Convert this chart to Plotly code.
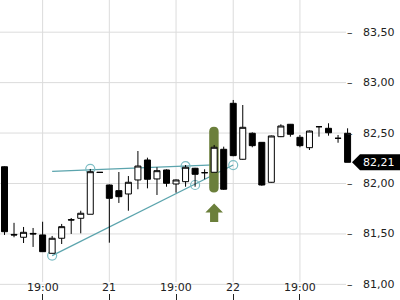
import plotly.graph_objects as go

# ---- data ----
idx = list(range(37))
opens = [82.166, 81.495, 81.467, 81.505, 81.490, 81.308, 81.457, 81.638, 81.655, 81.695,
         82.110, 81.985, 81.929, 81.896, 82.035, 82.233, 82.045, 82.134, 81.995, 82.018,
         82.151, 82.107, 82.111, 82.339, 82.795, 82.240, 82.498, 82.408, 82.012, 82.464,
         82.587, 82.458, 82.355, 82.563, 82.547, 82.448, 82.498]
highs = [82.170, 81.610, 81.569, 81.559, 81.621, 81.480, 81.599, 81.658, 81.730, 82.144,
         82.110, 81.990, 82.114, 82.074, 82.322, 82.256, 82.161, 82.140, 82.040, 82.183,
         82.155, 82.141, 82.382, 82.365, 82.828, 82.778, 82.507, 82.410, 82.475, 82.587,
         82.590, 82.481, 82.525, 82.563, 82.597, 82.481, 82.547]
lows = [81.490, 81.467, 81.410, 81.371, 81.324, 81.305, 81.400, 81.500, 81.506, 81.695,
        82.110, 81.413, 81.807, 81.730, 81.943, 81.952, 81.886, 81.968, 81.909, 81.968,
        81.968, 82.042, 82.111, 81.936, 82.270, 82.235, 82.359, 81.978, 82.008, 82.460,
        82.464, 82.359, 82.332, 82.464, 82.474, 82.404, 82.210]
closes = [81.522, 81.490, 81.516, 81.500, 81.324, 81.457, 81.572, 81.640, 81.705, 82.117,
          82.110, 81.853, 81.869, 82.012, 82.173, 82.042, 82.127, 82.002, 82.035, 82.161,
          82.091, 82.107, 82.359, 81.943, 82.276, 82.557, 82.375, 81.985, 82.471, 82.570,
          82.488, 82.375, 82.520, 82.563, 82.503, 82.448, 82.210]

xtick_idx = [4, 11, 18, 24, 31]
xtick_text = ["19:00", "21", "19:00", "22", "19:00"]
ytick_vals = [81.0, 81.5, 82.0, 82.5, 83.0, 83.5]

# trendline anchors (index, price)
upper_line = [(5, 82.120), (22, 82.185)]
lower_line = [(5, 81.285), (24, 82.183)]
circles = [(5, 81.285), (9, 82.145), (19, 82.172), (20, 81.985), (24, 82.183)]
highlight_idx = 22
arrow_idx = 22

# ---- geometry helpers ----
W_PLOT = 352
PX_PER_IDX = 9.53
X0 = -0.472
X1 = X0 + W_PLOT / PX_PER_IDX
Y_LO, Y_HI = 80.845, 83.819
PX_PER_PRICE = 300 / (Y_HI - Y_LO)

TEAL = "#5ba4ad"
TEAL_C = "#7dbdc4"
OLIVE = "#6b7f3b"

fig = go.Figure()
fig.add_trace(go.Candlestick(
    x=idx, open=opens, high=highs, low=lows, close=closes,
    increasing=dict(line=dict(color="black", width=1), fillcolor="white"),
    decreasing=dict(line=dict(color="black", width=1), fillcolor="black"),
    whiskerwidth=0, hoverinfo="skip",
))

shapes = []
# horizontal grid
for v in ytick_vals:
    shapes.append(dict(type="line", xref="paper", yref="y", x0=0, x1=346 / W_PLOT,
                       y0=v, y1=v, line=dict(color="#dcdcdc", width=1), layer="below"))
# vertical grid
for i in xtick_idx:
    shapes.append(dict(type="line", xref="x", yref="paper", x0=i, x1=i,
                       y0=1 - 282 / 300, y1=1, line=dict(color="#dcdcdc", width=1), layer="below"))
# trend lines
for ln in (upper_line, lower_line):
    (xa, ya), (xb, yb) = ln
    shapes.append(dict(type="line", xref="x", yref="y", x0=xa, y0=ya, x1=xb, y1=yb,
                       line=dict(color=TEAL, width=1.2), layer="below"))
# circles
rx = 4.5 / PX_PER_IDX
ry = 4.5 / PX_PER_PRICE
for cx, cy in circles:
    shapes.append(dict(type="circle", xref="x", yref="y", x0=cx - rx, x1=cx + rx,
                       y0=cy - ry, y1=cy + ry, line=dict(color=TEAL_C, width=1.2), layer="below"))
# highlight pill
hx0, hx1 = highlight_idx - 0.52, highlight_idx + 0.47
hy1 = highs[highlight_idx] + 0.18
hy0 = opens[highlight_idx] - 0.20
hr = 0.5 * (hx1 - hx0) * PX_PER_IDX / PX_PER_PRICE
hxm = (hx0 + hx1) / 2
pill = (f"M {hx0},{hy0 + hr} L {hx0},{hy1 - hr} Q {hx0},{hy1} {hxm},{hy1} "
        f"Q {hx1},{hy1} {hx1},{hy1 - hr} L {hx1},{hy0 + hr} Q {hx1},{hy0} {hxm},{hy0} "
        f"Q {hx0},{hy0} {hx0},{hy0 + hr} Z")
shapes.append(dict(type="path", xref="x", yref="y", path=pill, fillcolor=OLIVE,
                   line=dict(width=0), layer="below"))
# arrow
tip = hy0 - 11 / PX_PER_PRICE
hb = tip - 9 / PX_PER_PRICE
sb = tip - 18.5 / PX_PER_PRICE
hw = 8.8 / PX_PER_IDX
sw = 4.1 / PX_PER_IDX
ax = arrow_idx
arrow = (f"M {ax},{tip} L {ax + hw},{hb} L {ax + sw},{hb} L {ax + sw},{sb} "
         f"L {ax - sw},{sb} L {ax - sw},{hb} L {ax - hw},{hb} Z")
shapes.append(dict(type="path", xref="x", yref="y", path=arrow, fillcolor=OLIVE,
                   line=dict(width=0)))
# last price tag
last = closes[-1]
h = 8 / PX_PER_PRICE
px = lambda p: p / W_PLOT
tag = (f"M {px(352)},{last} L {px(360)},{last + h} L {px(400)},{last + h} "
       f"L {px(400)},{last - h} L {px(360)},{last - h} Z")
shapes.append(dict(type="path", xref="paper", yref="y", path=tag, fillcolor="black",
                   line=dict(width=0)))

annotations = []
for i, t in zip(xtick_idx, xtick_text):
    annotations.append(dict(x=i, xref="x", y=1 - 287 / 300, yref="paper", text=t,
                            showarrow=False, xanchor="center", yanchor="middle",
                            font=dict(family="DejaVu Sans", size=11, color="#222")))
NB = "\u00a0"
for v in ytick_vals:
    annotations.append(dict(x=px(347), xref="paper", y=v, yref="y",
                            text="\u2013" + NB * 3 + f"{v:.2f}".replace(".", ","),
                            showarrow=False, xanchor="left", yanchor="middle",
                            xshift=-1, borderpad=0,
                            font=dict(family="DejaVu Sans", size=11, color="#222")))
annotations.append(dict(x=px(379), xref="paper", y=last, yref="y",
                        text=f"{last:.2f}".replace(".", ","), showarrow=False,
                        xanchor="center", yanchor="middle",
                        font=dict(family="DejaVu Sans", size=11, color="white")))

fig.update_layout(
    width=400, height=300,
    margin=dict(l=0, r=400 - W_PLOT, t=0, b=0),
    paper_bgcolor="white", plot_bgcolor="white",
    showlegend=False, separators=",.",
    boxgap=0.1,
    shapes=shapes, annotations=annotations,
    xaxis=dict(range=[X0, X1], showgrid=False, zeroline=False, showline=False,
               tickvals=xtick_idx, ticks="inside", ticklen=6, tickcolor="#222",
               showticklabels=False, rangeslider=dict(visible=False), automargin=False),
    yaxis=dict(range=[Y_LO, Y_HI], side="right", tickvals=ytick_vals,
               showticklabels=False, ticks="", showgrid=False,
               zeroline=False, showline=False, automargin=False),
)

fig.write_html("out.html")
